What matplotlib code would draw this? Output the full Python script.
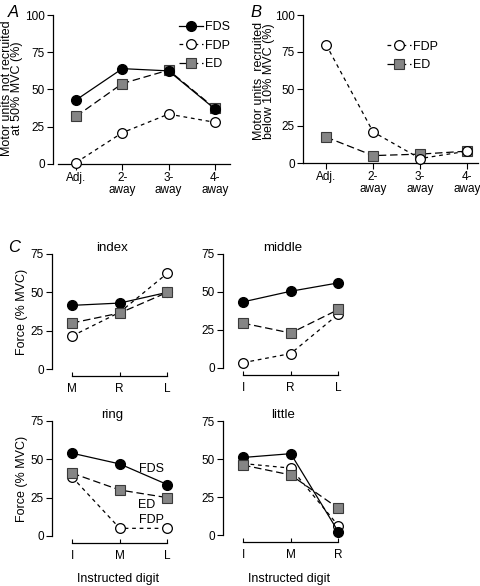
import matplotlib
matplotlib.use("Agg")
import matplotlib.pyplot as plt
from matplotlib.lines import Line2D

plt.rcParams['font.family'] = ['Liberation Sans', 'DejaVu Sans']
plt.rcParams['axes.linewidth'] = 0.9

# ---------------- data ----------------
dist_labels = ["Adj.", "2-\naway", "3-\naway", "4-\naway"]

a_fds = [43, 64, 62.5, 37]
a_fdp = [1, 21, 33.5, 28]
a_ed = [32, 54, 63, 37.5]

b_fdp = [80, 21, 3, 8]
b_ed = [17.5, 5, 6, 8]

index_labels = ["M", "R", "L"]
index_fds = [41.5, 43, 50]
index_fdp = [21.5, 37, 62.5]
index_ed = [30, 36.5, 50]

middle_labels = ["I", "R", "L"]
middle_fds = [43.5, 50.5, 56]
middle_fdp = [3.5, 9.5, 35.5]
middle_ed = [29.5, 23, 38.5]

ring_labels = ["I", "M", "L"]
ring_fds = [54, 47, 33.5]
ring_fdp = [38.5, 5, 5]
ring_ed = [41, 30, 25]

little_labels = ["I", "M", "R"]
little_fds = [51, 53.5, 2]
little_fdp = [47, 44, 6]
little_ed = [46, 39.5, 17.5]

W, H = 480, 586
fig = plt.figure(figsize=(W / 100, H / 100), dpi=100)


def ax_px(left, top, right, bottom):
    return fig.add_axes([left / W, 1 - bottom / H, (right - left) / W, (bottom - top) / H])


FS = 8.5
LFS = 9
fds_kw = dict(color='black', lw=0.9, ls='-', marker='o', ms=7, mfc='black', mec='black')
fdp_kw = dict(color='black', lw=0.9, ls=(0, (3, 3)), marker='o', ms=7, mfc='white', mec='black', mew=0.9)
ed_kw = dict(color='black', lw=0.9, ls=(0, (6, 3)), marker='s', ms=6.5, mfc='#858585', mec='#3a3a3a', mew=0.8)


def style(ax):
    for s in ['top', 'right']:
        ax.spines[s].set_visible(False)
    ax.tick_params(labelsize=FS, length=4, width=0.8, colors='black', pad=2)


# ---------------- Panel A ----------------
axA = ax_px(53, 15, 230, 164)
xs = range(len(dist_labels))
axA.plot(xs, a_fdp, clip_on=False, zorder=3, **fdp_kw)
axA.plot(xs, a_ed, clip_on=False, zorder=4, **ed_kw)
axA.plot(xs, a_fds, clip_on=False, zorder=5, **fds_kw)
axA.set_xlim(-0.5, 3.33)
axA.set_ylim(0, 100)
axA.set_yticks([0, 25, 50, 75, 100])
axA.set_xticks(list(xs))
axA.set_xticklabels(dist_labels, linespacing=1.0)
style(axA)
axA.spines['bottom'].set_bounds(-0.39, 3.33)
axA.set_ylabel("Motor units not recruited\nat 50% MVC (%)", fontsize=LFS, linespacing=0.82)
axA.yaxis.set_label_coords(-0.168, 0.51)
hA = [Line2D([], [], **fds_kw), Line2D([], [], **fdp_kw), Line2D([], [], **ed_kw)]
axA.legend(hA, ["FDS", "FDP", "ED"], loc='upper right', bbox_to_anchor=(1.03, 0.99), frameon=False,
           fontsize=FS + 0.5, handlelength=1.9, handletextpad=0.2, labelspacing=0.5, borderaxespad=0)
fig.text(8 / W, 1 - 17 / H, "A", fontsize=12, style='italic')

# ---------------- Panel B ----------------
axB = ax_px(303, 15, 478, 163)
axB.plot(xs, b_fdp, clip_on=False, zorder=4, **fdp_kw)
axB.plot(xs, b_ed, clip_on=False, zorder=3, **ed_kw)
axB.set_xlim(-0.49, 3.23)
axB.set_ylim(0, 100)
axB.set_yticks([0, 25, 50, 75, 100])
axB.set_xticks(list(xs))
axB.set_xticklabels(dist_labels, linespacing=1.0)
style(axB)
axB.set_ylabel("Motor units  recruited\nbelow 10% MVC (%)", fontsize=LFS, linespacing=0.82)
axB.yaxis.set_label_coords(-0.16, 0.554)
hB = [Line2D([], [], **fdp_kw), Line2D([], [], **ed_kw)]
axB.legend(hB, ["FDP", "ED"], loc='upper left', bbox_to_anchor=(0.45, 0.86), frameon=False,
           fontsize=FS + 0.5, handlelength=1.9, handletextpad=0.2, labelspacing=0.5, borderaxespad=0)
fig.text(250 / W, 1 - 17 / H, "B", fontsize=12, style='italic')

fig.text(8 / W, 1 - 252 / H, "C", fontsize=12, style='italic')


# ---------------- Panel C ----------------
def c_panel(left, top, bottom, labels, fds, fdp, ed, title, ylab, xlab):
    ax = ax_px(left, top, left + 125, bottom)
    x = range(len(labels))
    ax.plot(x, fdp, clip_on=False, zorder=3, **fdp_kw)
    ax.plot(x, fds, clip_on=False, zorder=4, **fds_kw)
    ax.plot(x, ed, clip_on=False, zorder=5, **ed_kw)
    ax.set_xlim(-0.42, 2.2)
    ax.set_ylim(0, 75)
    ax.set_yticks([0, 25, 50, 75])
    ax.set_xticks(list(x))
    ax.set_xticklabels(labels)
    style(ax)
    ax.spines['bottom'].set_position(('outward', 5))
    ax.spines['bottom'].set_bounds(0, 2)
    ax.tick_params(axis='x', direction='in', length=3, pad=5)
    ax.set_title(title, fontsize=LFS + 0.5, pad=2, x=0.48)
    if ylab:
        ax.set_ylabel("Force (% MVC)", fontsize=LFS)
        ax.yaxis.set_label_coords(-0.195, 0.5)
    if xlab:
        cx = (left + 66) / W
        fig.text(cx, 1 - 579 / H, "Instructed digit", fontsize=LFS, ha='center', va='center')
    return ax


c_panel(52, 254, 369, index_labels, index_fds, index_fdp, index_ed, "index", True, False)
c_panel(223, 254, 368, middle_labels, middle_fds, middle_fdp, middle_ed, "middle", False, False)
axR = c_panel(52, 421, 536, ring_labels, ring_fds, ring_fdp, ring_ed, "ring", True, True)
c_panel(223, 421, 535, little_labels, little_fds, little_fdp, little_ed, "little", False, True)

axR.text(1.4, 43.5, "FDS", fontsize=FS + 0.5, va='center', ha='left')
axR.text(1.38, 20, "ED", fontsize=FS + 0.5, va='center', ha='left')
axR.text(1.4, 10.5, "FDP", fontsize=FS + 0.5, va='center', ha='left')

fig.savefig("out.png", dpi=100)
